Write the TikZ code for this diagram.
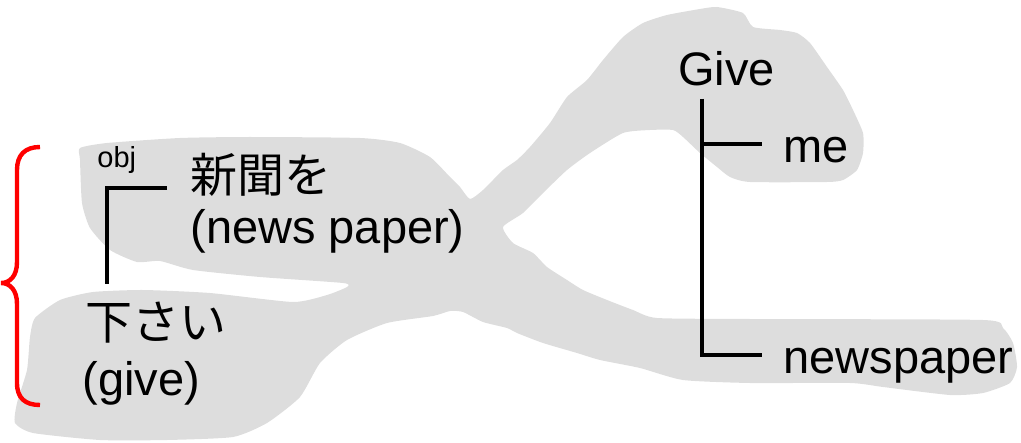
\documentclass[tikz,border=0pt]{standalone}
\usepackage{fontspec}
\setmainfont{Liberation Sans}
\newfontfamily\jpfont{Noto Sans CJK JP}
\usepackage{tikz}
\usetikzlibrary{positioning, calc}
\definecolor{blobgray}{HTML}{DDDDDD}
\definecolor{bracered}{HTML}{FF0000}

\begin{document}
\begin{tikzpicture}[x=0.5pt, y=-0.5pt,
    word/.style={inner sep=0pt, anchor=base west, font=\fontsize{23.5}{28}\selectfont},
    tag/.style={inner sep=0pt, anchor=base west, font=\fontsize{14.5}{17}\selectfont},
    tree/.style={line width=1.7pt, black},
    blob/.style={fill=blobgray, draw=none},
]
    \useasboundingbox (0,0) rectangle (1021,443);

    % === grey band behind both trees ===
    \fill[blob] plot[smooth cycle, tension=0.35] coordinates {
        (80,148) (107,143) (180,138) (250,137) (360,138) (400,143) (430,157)
        (450,177) (460,187) (470,199) (483,190) (503,170) (517,160) (530,147)
        (550,123) (567,97) (587,80) (603,60) (623,37) (643,23) (667,15)
        (700,9) (717,7) (743,13) (753,27) (780,30) (797,33) (810,43)
        (827,67) (843,90) (853,110) (863,133) (863,153) (857,170) (843,180)
        (827,182) (750,182) (730,177) (717,167) (700,153) (683,137) (673,130)
        (650,130) (623,133) (590,153) (567,170) (543,193) (523,213) (503,227)
        (513,243) (533,253) (547,267) (567,280) (583,290) (607,300) (633,310)
        (657,318) (750,319) (983,320) (1003,328) (1013,343) (1017,367)
        (1010,383) (983,393) (950,395) (883,387) (850,383) (750,383) (683,380)
        (640,368) (600,360) (577,353) (543,343) (517,333) (507,328) (483,322)
        (463,312) (450,311) (433,316) (387,323) (347,340) (320,363) (300,397)
        (267,423) (233,437) (167,440) (100,440) (33,433) (15,423) (17,403)
        (27,370) (30,337) (35,318) (60,300) (93,292) (143,290) (210,293)
        (293,302) (327,295) (347,287) (343,283) (260,277) (193,270) (160,261)
        (137,262) (110,250) (90,228) (82,203) (80,160)
    };

    % === Japanese side ===
    \node[word] (shinbun) at (190,192) {\jpfont 新聞を};
    \node[word] (np) at (190,243) {(news paper)};
    \node[word] (kudasai) at (85,339) {\jpfont 下さい};
    \node[word] (givejp) at (82,395) {(give)};
    \node[tag] (obj) at (97,168) {obj};

    \coordinate (objelbow) at (107,188);
    \coordinate (kdtop) at ([yshift=8.5pt]kudasai.north);
    \draw[tree] ([xshift=-11.5pt, yshift=2pt]shinbun.base west) -- (objelbow)
        -- (objelbow |- kdtop);

    % brace over both Japanese lines
    \draw[bracered, line width=2.2pt]
        (40,147) .. controls (25,147) and (17,155) .. (17,170) -- (17,262)
        .. controls (17,276) and (10,283) .. (1,283)
        .. controls (10,283) and (17,290) .. (17,304) -- (17,383)
        .. controls (17,398) and (25,405) .. (40,405);

    % === English side ===
    \node[word] (give) at (678,86) {Give};
    \node[word] (me) at (783,163) {me};
    \node[word] (paper) at (783,373) {newspaper};

    \coordinate (stem) at (702,99);
    \draw[tree] (stem) |- ([xshift=-10.5pt, yshift=9.5pt]me.base west);
    \draw[tree] (stem) |- ([xshift=-10.5pt, yshift=9pt]paper.base west);
\end{tikzpicture}
\end{document}
